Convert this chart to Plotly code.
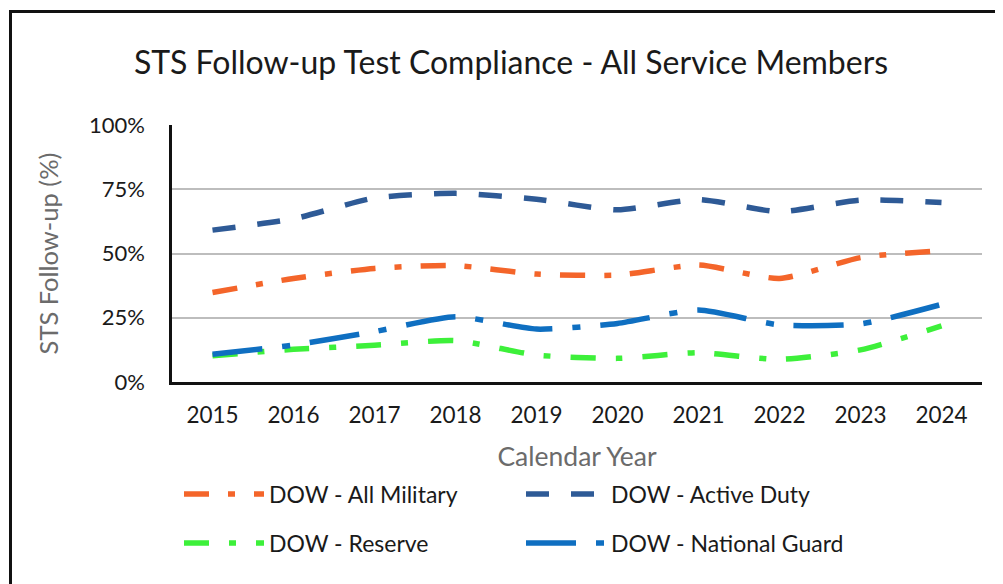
import plotly.graph_objects as go

years = ["2015", "2016", "2017", "2018", "2019", "2020", "2021", "2022", "2023", "2024"]
all_military = [34.8, 40.3, 44.2, 45.3, 42.0, 41.6, 45.5, 40.3, 48.4, 51.1]
active_duty = [59.1, 63.5, 71.6, 73.4, 71.1, 67.0, 71.0, 66.3, 70.8, 69.8]
reserve = [10.2, 12.7, 14.3, 16.1, 10.5, 9.2, 11.4, 8.8, 12.5, 21.8]
national_guard = [10.8, 14.4, 19.6, 25.4, 20.6, 22.8, 28.0, 22.2, 22.6, 30.2]

y_ticks = [0, 25, 50, 75, 100]
y_tick_labels = ["0%", "25%", "50%", "75%", "100%"]

FONT = "Lato"
OFF = 8  # default page body margin
W, H = 1003 - OFF, 584 - OFF
# plot area in page pixels: x 172..982, y 125..382
L, R, T, B = 172 - OFF, W - (982 - OFF), 125 - OFF, H - (382 - OFF)
pw, ph = W - L - R, H - T - B

def px_x(page_px):
    return (page_px - OFF - L) / pw

def px_y(page_py):
    return (H - B - (page_py - OFF)) / ph

fig = go.Figure()
series = [
    ("DOW - All Military", all_military, "#F4652A", "25px,19px,7px,19px", "legend"),
    ("DOW - Active Duty", active_duty, "#2E5A96", "23px,22px", "legend"),
    ("DOW - Reserve", reserve, "#3DF03A", "25px,20px,7px,20px", "legend2"),
    ("DOW - National Guard", national_guard, "#0F6FC1", "50px,20px,8px,20px", "legend2"),
]
for name, vals, color, dash, lg in series:
    fig.add_trace(go.Scatter(
        x=years, y=vals, name=name, mode="lines",
        line=dict(color=color, width=5.5, dash=dash, shape="spline", smoothing=0.6),
        legend=lg,
    ))

legend_common = dict(
    orientation="h", xanchor="left", yanchor="middle",
    font=dict(family=FONT, size=23, color="#1a1a1a"),
    bgcolor="rgba(0,0,0,0)", entrywidth=247, itemwidth=80,
    traceorder="normal",
)

fig.update_layout(
    width=W, height=H,
    margin=dict(l=L, r=R, t=T, b=B, autoexpand=False),
    paper_bgcolor="white", plot_bgcolor="white",
    title=dict(text="STS Follow-up Test Compliance - All Service Members",
               x=(511 - OFF) / W, xanchor="center", y=1 - (63 - OFF) / H, yanchor="middle",
               font=dict(family=FONT, size=32, color="#1a1a1a")),
    xaxis=dict(
        type="category", range=[-0.5, 9.5], automargin=False,
        showgrid=False, showline=True, linecolor="#111111", linewidth=2.5,
        ticks="", ticklabelstandoff=11,
        tickfont=dict(family=FONT, size=22.5, color="#1a1a1a"),
        title=dict(text="Calendar Year", standoff=21,
                   font=dict(family=FONT, size=26.5, color="#6b6b6b")),
    ),
    yaxis=dict(
        range=[0, 100], tickmode="array", tickvals=y_ticks, ticktext=y_tick_labels,
        automargin=False,
        showgrid=True, gridcolor="#bdbdbd", gridwidth=1.5,
        zeroline=False, showline=True, linecolor="#111111", linewidth=2.5,
        ticks="", ticklabelstandoff=20,
        tickfont=dict(family=FONT, size=22, color="#1a1a1a"),
        title=dict(text="STS Follow-up (%)", standoff=24,
                   font=dict(family=FONT, size=25.5, color="#6b6b6b")),
    ),
    legend=dict(x=px_x(179), y=px_y(494), **legend_common),
    legend2=dict(x=px_x(179), y=px_y(543), **legend_common),
    shapes=[dict(type="rect", xref="paper", yref="paper",
                 x0=px_x(10.5), x1=px_x(1020), y0=px_y(610), y1=px_y(11.5),
                 line=dict(color="#111111", width=3), fillcolor="rgba(0,0,0,0)",
                 layer="above")],
)

fig.write_html("out.html")
